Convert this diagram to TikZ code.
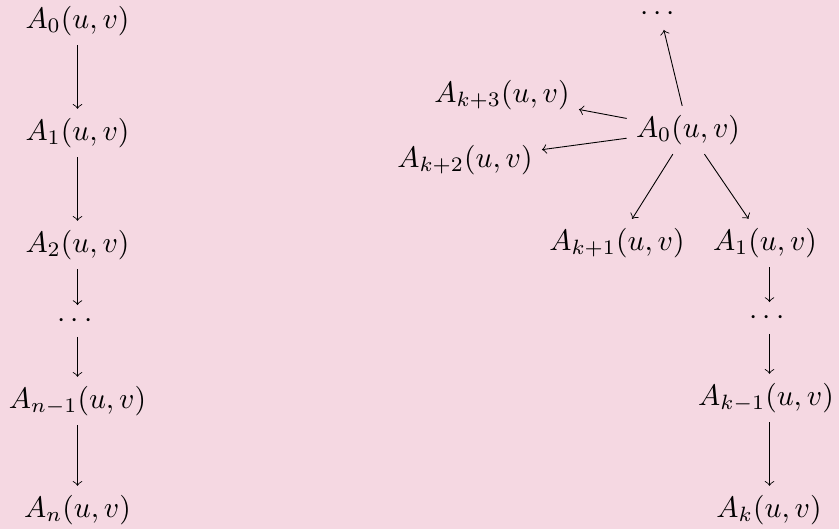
\documentclass[tikz,border=0pt]{standalone}
\usepackage{amsmath}
\definecolor{bgpink}{RGB}{245,216,226}
\begin{document}
\begin{tikzpicture}[
    x=0.338pt, y=-0.338pt,
    term/.style={inner sep=3pt},
    every path/.style={line width=0.3pt}
]
\fill[bgpink] (0,0) rectangle (839,529);
\useasboundingbox (0,0) rectangle (839,529);

% Left chain
\node[term] (l0) at (77.5,21)  {$A_0(u,v)$};
\node[term] (l1) at (77.5,133) {$A_1(u,v)$};
\node[term] (l2) at (77.5,245) {$A_2(u,v)$};
\node[term] (ld) at (77.5,321) {$\cdots$};
\node[term] (lm) at (77.5,401) {$A_{n-1}(u,v)$};
\node[term] (ln) at (77.5,510) {$A_n(u,v)$};
\foreach \a/\b in {l0/l1, l1/l2, l2/ld, ld/lm, lm/ln}
    \draw[->] (\a) -- (\b);

% Right star and chain
\node[term] (r0)  at (688,130) {$A_0(u,v)$};
\node[term] (rt)  at (660,14)  {$\cdots$};
\node[term] (rk3) at (502,95)  {$A_{k+3}(u,v)$};
\node[term] (rk2) at (465,160) {$A_{k+2}(u,v)$};
\node[term] (rk1) at (617,243) {$A_{k+1}(u,v)$};
\node[term] (r1)  at (765,243) {$A_1(u,v)$};
\node[term] (rd)  at (769.5,318) {$\cdots$};
\node[term] (rm)  at (766,398) {$A_{k-1}(u,v)$};
\node[term] (rk)  at (769,510) {$A_k(u,v)$};
\foreach \b in {rt, rk3, rk2, rk1, r1}
    \draw[->] (r0) -- (\b);
\draw[->] (r1.south -| rd) -- (rd);
\draw[->] (rd) -- (rm.north -| rd);
\draw[->] (rm.south -| rd) -- (rk.north -| rd);
\end{tikzpicture}
\end{document}
